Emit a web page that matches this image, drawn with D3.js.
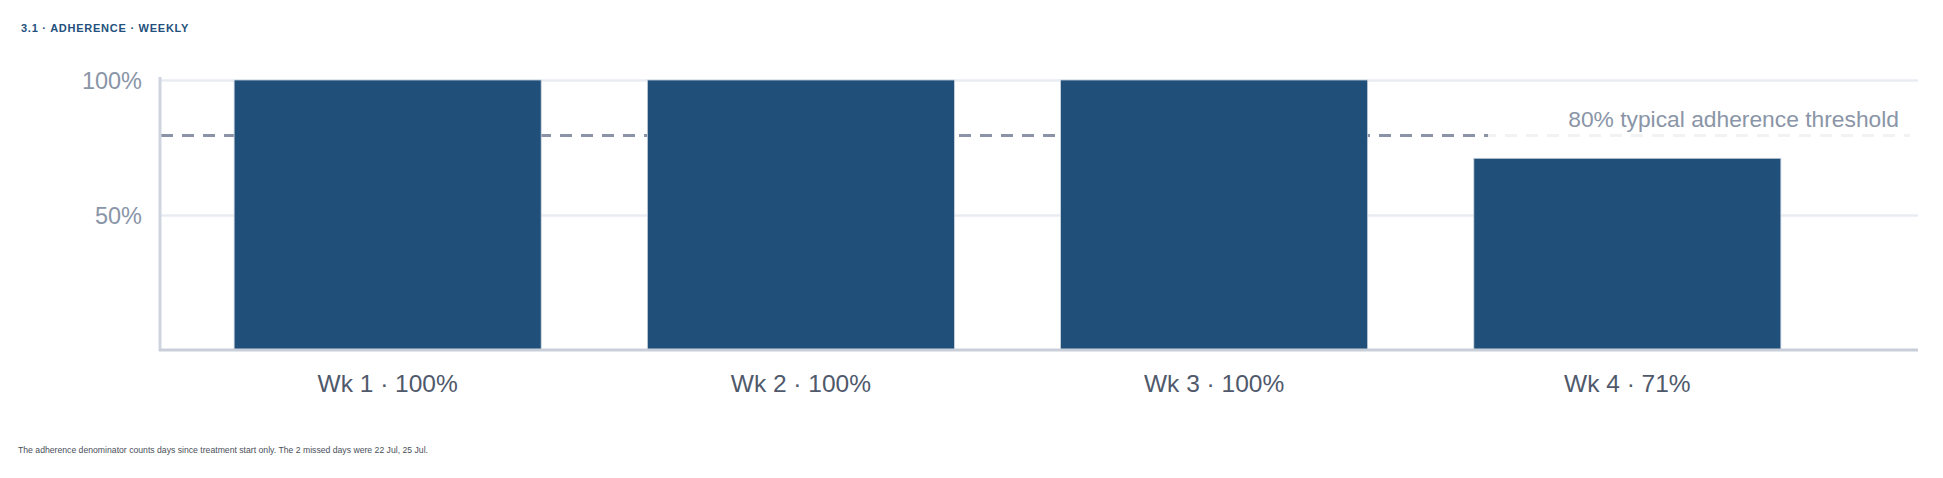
<!DOCTYPE html>
<html>
<head>
<meta charset="utf-8">
<script src="https://cdn.jsdelivr.net/npm/d3@7"></script>
<style>
  body { margin: 0; background: #fff; }
  text { font-family: "Liberation Sans", Arial, Helvetica, sans-serif; }
</style>
</head>
<body>
<div id="chart"></div>
<script>
const weeks = ["Wk 1", "Wk 2", "Wk 3", "Wk 4"];
const adherence = [100, 100, 100, 71];
const yTicks = [50, 100];
const threshold = 80;
const thresholdLabel = "80% typical adherence threshold";
const title = "3.1 · ADHERENCE · WEEKLY";
const footnote = "The adherence denominator counts days since treatment start only. The 2 missed days were 22 Jul, 25 Jul.";

(function() {
    const width = 1943;
    const height = 478;
    const left = 161, right = 1918, top = 80, bottom = 350;

    const svg = d3.select("#chart")
        .append("svg")
        .attr("width", width)
        .attr("height", height)
        .attr("viewBox", [0, 0, width, height]);

    const x = d3.scaleBand()
        .domain(weeks)
        .range([left, 1854])
        .paddingInner(0.257)
        .paddingOuter(0.177);

    const y = d3.scaleLinear()
        .domain([0, 100])
        .range([bottom, top]);

    // title
    svg.append("text")
        .attr("x", 21)
        .attr("y", 32)
        .attr("fill", "#23507c")
        .style("font-size", "11px")
        .style("font-weight", "bold")
        .style("letter-spacing", "0.75px")
        .text(title);

    // gridlines
    svg.append("g")
        .attr("transform", `translate(${left},0)`)
        .call(d3.axisLeft(y).tickValues(yTicks).tickSize(-(right - left)).tickFormat(""))
        .call(g => g.select(".domain").remove())
        .call(g => g.selectAll(".tick line").attr("stroke", "#e9edf2").attr("stroke-width", 2.5));

    // y labels
    svg.append("g")
        .attr("transform", `translate(${left},0)`)
        .call(d3.axisLeft(y).tickValues(yTicks).tickSize(0).tickPadding(19).tickFormat(d => d + "%"))
        .call(g => g.select(".domain").remove())
        .call(g => g.selectAll(".tick text")
            .attr("fill", "#8a95a7")
            .attr("dy", "0.36em")
            .style("font-size", "23.5px")
            .style("font-family", '"Liberation Sans", Arial, sans-serif'));

    // threshold line (behind bars)
    svg.append("line")
        .attr("x1", left)
        .attr("x2", 1910)
        .attr("y1", y(threshold) + 1.5)
        .attr("y2", y(threshold) + 1.5)
        .attr("stroke", "#8a94a6")
        .attr("stroke-width", 3)
        .attr("stroke-dasharray", "12 9");

    // bars
    svg.append("g")
        .selectAll("rect")
        .data(weeks)
        .join("rect")
        .attr("x", d => x(d))
        .attr("y", (d, i) => y(adherence[i]))
        .attr("width", x.bandwidth())
        .attr("height", (d, i) => y(0) - y(adherence[i]))
        .attr("fill", "#204f79")
        .attr("stroke", "#c9d2de")
        .attr("stroke-width", 0.8);

    // faded label backdrop over the line
    svg.append("rect")
        .attr("x", 1488)
        .attr("y", 100)
        .attr("width", 1912 - 1488)
        .attr("height", 42)
        .attr("fill", "#fff")
        .attr("opacity", 0.88);

    svg.append("text")
        .attr("x", 1899)
        .attr("y", 126.5)
        .attr("text-anchor", "end")
        .attr("fill", "#8a95a7")
        .style("font-size", "22.8px")
        .text(thresholdLabel);

    // y axis line
    svg.append("line")
        .attr("x1", left - 1)
        .attr("x2", left - 1)
        .attr("y1", 77)
        .attr("y2", bottom + 1)
        .attr("stroke", "#cfd5de")
        .attr("stroke-width", 3);

    // x axis
    svg.append("g")
        .attr("transform", `translate(0,${bottom})`)
        .call(d3.axisBottom(x).tickSize(0).tickFormat((d, i) => `${d} · ${adherence[i]}%`))
        .call(g => g.select(".domain")
            .attr("d", `M${left - 2},0H${right}`)
            .attr("stroke", "#c9cfd9")
            .attr("stroke-width", 3))
        .call(g => g.selectAll(".tick text")
            .attr("y", 42)
            .attr("dy", 0)
            .attr("fill", "#4f596b")
            .style("font-size", "24.5px")
            .style("font-family", '"Liberation Sans", Arial, sans-serif'));

    // footnote
    svg.append("text")
        .attr("x", 18)
        .attr("y", 453)
        .attr("fill", "#4a4f5a")
        .attr("textLength", 410)
        .attr("lengthAdjust", "spacingAndGlyphs")
        .style("font-size", "9.5px")
        .text(footnote);
})();
</script>
</body>
</html>
